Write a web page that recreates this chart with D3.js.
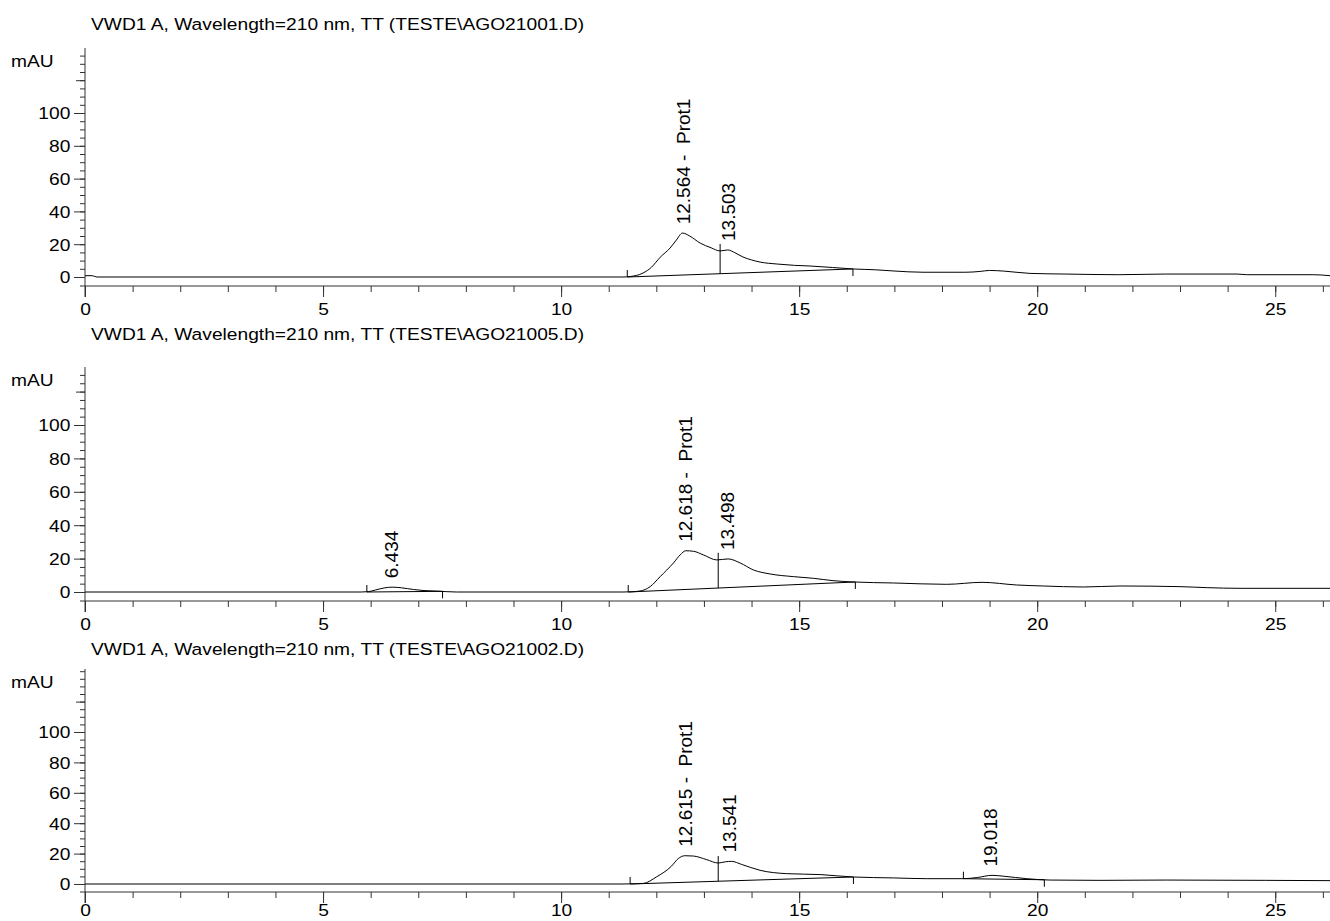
<!DOCTYPE html>
<html>
<head>
<meta charset="utf-8">
<script src="https://cdn.jsdelivr.net/npm/d3@7"></script>
<style>
body { margin: 0; background: #fff; }
text { font-family: "Liberation Sans", Arial, sans-serif; fill: #000; }
</style>
</head>
<body>
<div id="chart"></div>
<script>
// chromatogram data: [time (min), mAU]
var titles = [
	"VWD1 A, Wavelength=210 nm, TT (TESTE\\AGO21001.D)",
	"VWD1 A, Wavelength=210 nm, TT (TESTE\\AGO21005.D)",
	"VWD1 A, Wavelength=210 nm, TT (TESTE\\AGO21002.D)"
];

var trace1 = [[0, 0.8], [0.15, 0.8], [0.25, 0], [5, 0], [10, 0], [11.3, 0], [11.45, 0.3], [11.72, 2.4], [11.9, 6],
	[12.08, 12], [12.29, 17.7], [12.42, 22.5], [12.55, 26.8], [12.7, 25], [12.92, 20.7], [13.15, 17.8], [13.34, 15.9],
	[13.5, 16.5], [13.65, 14.8], [13.82, 12.2], [14.0, 10.4], [14.18, 9.1], [14.54, 7.9], [14.9, 7.1], [15.23, 6.7],
	[15.7, 5.8], [16.13, 4.9], [16.6, 4.4], [16.97, 3.7], [17.6, 2.9], [18.5, 2.9], [18.8, 3.4], [19.0, 4.0], [19.3, 3.6],
	[19.85, 2.2], [20.6, 1.8], [21.7, 1.4], [22.7, 1.8], [24.2, 1.8], [24.4, 1.4], [25.8, 1.4], [26.15, 0.8]];

var trace2 = [[0, 0], [5.8, 0], [5.95, 0.2], [6.1, 1.2], [6.3, 2.5], [6.45, 2.9], [6.65, 2.5], [6.9, 1.5], [7.1, 0.9],
	[7.35, 0.6], [7.6, 0.2], [7.8, 0], [11.3, 0], [11.45, 0.1], [11.66, 0.6], [11.87, 3.2], [12.08, 9.2], [12.36, 17.4],
	[12.5, 22.2], [12.62, 24.7], [12.78, 24.4], [12.99, 22.2], [13.27, 19.2], [13.51, 19.8], [13.76, 17.4], [14.04, 13.2],
	[14.39, 10.8], [14.88, 9.2], [15.3, 8.2], [15.71, 6.8], [16.14, 6], [16.98, 5.4], [18.1, 4.6], [18.84, 5.8],
	[19.57, 4.2], [20.13, 3.6], [20.97, 3], [21.74, 3.6], [23, 3.2], [23.57, 2.6], [24.26, 2.2], [26.15, 2.2]];

var trace3 = [[0, 0], [11.3, 0], [11.45, 0.1], [11.73, 0.4], [12.0, 4.6], [12.32, 11.8], [12.46, 16.7], [12.6, 18.6],
	[12.78, 18.4], [13.06, 16], [13.3, 13.8], [13.45, 14.6], [13.58, 14.9], [13.79, 12.9], [14.18, 9], [14.74, 6.8],
	[15.44, 6.2], [16.14, 4.6], [16.98, 4], [17.68, 3.5], [18.45, 3.5], [18.75, 4.3], [19.05, 5.7], [19.3, 5.1],
	[19.78, 3.5], [20.27, 2.6], [21.3, 2.4], [22.7, 2.6], [24.8, 2.4], [26.15, 2.2]];

// peak annotations
var peaks1 = [{ rt: 12.564, label: "12.564 -  Prot1" }, { rt: 13.503, label: "13.503" }];
var peaks2 = [{ rt: 6.434, label: "6.434" }, { rt: 12.618, label: "12.618 -  Prot1" }, { rt: 13.498, label: "13.498" }];
var peaks3 = [{ rt: 12.615, label: "12.615 -  Prot1" }, { rt: 13.541, label: "13.541" }, { rt: 19.018, label: "19.018" }];

// integration baselines [[start t, mAU], [end t, mAU]] and drop lines (t)
var baselines1 = [[[11.39, 0], [16.13, 4.9]]];
var baselines2 = [[[5.92, 0], [7.51, 0.4]], [[11.41, 0], [16.18, 6]]];
var baselines3 = [[[11.45, 0], [16.14, 4.6]], [[18.45, 3.5], [20.15, 2.8]]];
var drops1 = [13.34];
var drops2 = [13.3];
var drops3 = [13.3];

var xMajor = [0, 5, 10, 15, 20, 25];
var yMajor = [0, 20, 40, 60, 80, 100];

// page layout for each panel
var layout = [
	{ titleY: 30, top: 48, zero: 277, hundred: 113, axisY: 286, labelPad: 6 },
	{ titleY: 340, top: 367, zero: 592, hundred: 425, axisY: 601, labelPad: 6 },
	{ titleY: 655, top: 669, zero: 884, hundred: 732, axisY: 892, labelPad: 1 }
];

var panels = [
	{ title: titles[0], trace: trace1, peaks: peaks1, baselines: baselines1, drops: drops1 },
	{ title: titles[1], trace: trace2, peaks: peaks2, baselines: baselines2, drops: drops2 },
	{ title: titles[2], trace: trace3, peaks: peaks3, baselines: baselines3, drops: drops3 }
];

var width = 1330;
var height = 921;
var axisX = 85;
var stretch = "scale(1.13,1)";

var svg = d3.select("#chart").append("svg").attr("width", width).attr("height", height);

var x = d3.scaleLinear().domain([0, 26.15]).range([axisX, width]);

function valueAt(trace, t) {
	for (var i = 0; i < trace.length - 1; i++) {
		if (t >= trace[i][0] && t <= trace[i + 1][0]) {
			var f = (t - trace[i][0]) / (trace[i + 1][0] - trace[i][0]);
			return trace[i][1] + f * (trace[i + 1][1] - trace[i][1]);
		}
	}
	return 0;
}

panels.forEach(function (p, i) {
	var L = layout[i];
	var g = svg.append("g").attr("class", "panel");
	var y = d3.scaleLinear().domain([0, 100]).range([L.zero, L.hundred]);
	var yTop = y.invert(L.top);

	// title and unit
	g.append("text")
		.attr("transform", "translate(91," + L.titleY + ") " + stretch)
		.style("font-size", "17px")
		.text(p.title);
	g.append("text")
		.attr("transform", "translate(11," + (L.top + 19) + ") " + stretch)
		.style("font-size", "17px")
		.text("mAU");

	// y axis
	var yMinor = d3.range(0, yTop + 0.01, 5);
	g.append("g")
		.attr("transform", "translate(" + axisX + ",0)")
		.call(d3.axisLeft(y).tickValues(yMinor).tickSize(5).tickFormat(""))
		.call(function (a) { a.select(".domain").remove(); });
	g.append("g")
		.attr("transform", "translate(" + axisX + ",0)")
		.call(d3.axisLeft(y).tickValues([120]).tickSize(9).tickFormat(""))
		.call(function (a) { a.select(".domain").remove(); });
	g.append("g")
		.attr("transform", "translate(" + axisX + ",0)")
		.call(d3.axisLeft(y).tickValues(yMajor).tickSize(11).tickPadding(2))
		.call(function (a) {
			a.select(".domain").remove();
			a.selectAll("text").style("font-size", "17px").attr("transform", stretch).attr("dy", "0.35em");
		});
	g.append("line")
		.attr("x1", axisX).attr("x2", axisX)
		.attr("y1", L.top).attr("y2", L.axisY + 11)
		.attr("stroke", "#333");

	// x axis
	g.append("line")
		.attr("x1", axisX - 5).attr("x2", width)
		.attr("y1", L.axisY).attr("y2", L.axisY)
		.attr("stroke", "#333");
	g.append("g")
		.attr("transform", "translate(0," + L.axisY + ")")
		.call(d3.axisBottom(x).tickValues(d3.range(0, 27)).tickSize(6).tickFormat(""))
		.call(function (a) { a.select(".domain").remove(); });
	g.append("g")
		.attr("transform", "translate(0," + L.axisY + ")")
		.call(d3.axisBottom(x).tickValues(xMajor).tickSize(11).tickPadding(L.labelPad))
		.call(function (a) {
			a.select(".domain").remove();
			a.selectAll("text").style("font-size", "17px").attr("transform", stretch);
		});
	g.selectAll(".tick line").attr("stroke", "#333");

	// integration baselines with start / end marks
	p.baselines.forEach(function (b) {
		g.append("line")
			.attr("x1", x(b[0][0])).attr("y1", y(b[0][1]))
			.attr("x2", x(b[1][0])).attr("y2", y(b[1][1]))
			.attr("stroke", "#000");
		g.append("line")
			.attr("x1", x(b[0][0])).attr("x2", x(b[0][0]))
			.attr("y1", y(b[0][1])).attr("y2", y(b[0][1]) - 7)
			.attr("stroke", "#000");
		g.append("line")
			.attr("x1", x(b[1][0])).attr("x2", x(b[1][0]))
			.attr("y1", y(b[1][1])).attr("y2", y(b[1][1]) + 7)
			.attr("stroke", "#000");
	});

	// drop lines
	p.drops.forEach(function (t) {
		var base = 0;
		p.baselines.forEach(function (b) {
			if (t >= b[0][0] && t <= b[1][0]) base = valueAt(b, t);
		});
		g.append("line")
			.attr("x1", x(t)).attr("x2", x(t))
			.attr("y1", y(base)).attr("y2", y(valueAt(p.trace, t)) - 7)
			.attr("stroke", "#000");
	});

	// signal
	var line = d3.line()
		.x(function (d) { return x(d[0]); })
		.y(function (d) { return y(d[1]); })
		.curve(d3.curveMonotoneX);
	g.append("path")
		.datum(p.trace)
		.attr("d", line)
		.attr("fill", "none")
		.attr("stroke", "#000")
		.attr("stroke-width", 1);

	// peak labels
	g.selectAll(".peak")
		.data(p.peaks)
		.enter()
		.append("text")
		.attr("class", "peak")
		.attr("transform", function (d) {
			return "translate(" + x(d.rt) + "," + (y(valueAt(p.trace, d.rt)) - 9) + ") rotate(-90)";
		})
		.attr("dy", "0.35em")
		.style("font-size", "19px")
		.style("white-space", "pre")
		.text(function (d) { return d.label; });
});
</script>
</body>
</html>
